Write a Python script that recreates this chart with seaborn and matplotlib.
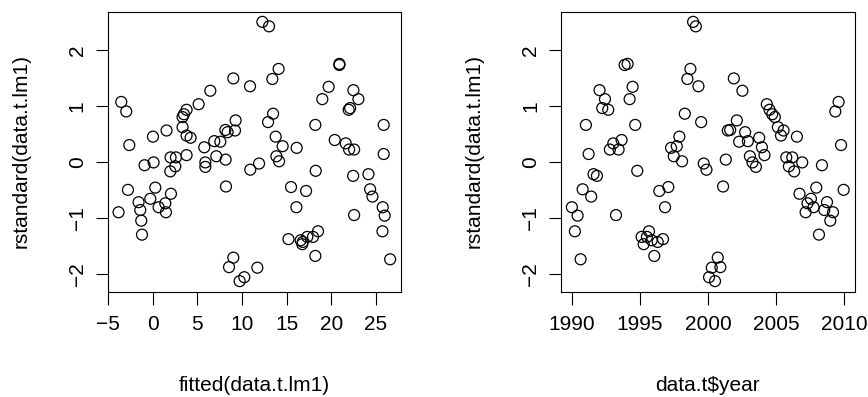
import numpy as np
import pandas as pd
import matplotlib
matplotlib.use("Agg")
import matplotlib.pyplot as plt
import seaborn as sns

year = [1990.00, 1990.22, 1990.42, 1990.64, 1990.79, 1991.03, 1991.23, 1991.42, 1991.59, 1991.84,
        1992.03, 1992.23, 1992.43, 1992.67, 1992.79, 1993.04, 1993.24, 1993.43, 1993.65, 1993.87,
        1994.09, 1994.24, 1994.46, 1994.65, 1994.80, 1995.12, 1995.27, 1995.51, 1995.66, 1995.86,
        1996.05, 1996.30, 1996.42, 1996.69, 1996.84, 1997.08, 1997.28, 1997.48, 1997.70, 1997.89,
        1998.09, 1998.29, 1998.48, 1998.70, 1998.90, 1999.10, 1999.29, 1999.49, 1999.68, 1999.88,
        2000.07, 2000.27, 2000.51, 2000.71, 2000.90, 2001.10, 2001.30, 2001.45, 2001.62, 2001.89,
        2002.11, 2002.28, 2002.52, 2002.72, 2002.92, 2003.07, 2003.26, 2003.51, 2003.75, 2003.95,
        2004.14, 2004.31, 2004.51, 2004.71, 2004.90, 2005.12, 2005.35, 2005.54, 2005.74, 2005.93,
        2006.18, 2006.32, 2006.52, 2006.71, 2006.91, 2007.16, 2007.30, 2007.55, 2007.74, 2007.94,
        2008.14, 2008.36, 2008.53, 2008.73, 2008.97, 2009.17, 2009.34, 2009.58, 2009.76, 2009.95]

rstd = [-0.80, -1.23, -0.95, -1.73, -0.48, 0.67, 0.15, -0.61, -0.21, -0.24,
        1.29, 0.97, 1.13, 0.94, 0.23, 0.34, -0.94, 0.23, 0.40, 1.74,
        1.76, 1.13, 1.35, 0.67, -0.15, -1.33, -1.46, -1.33, -1.23, -1.39,
        -1.67, -1.42, -0.51, -1.37, -0.80, -0.44, 0.26, 0.11, 0.29, 0.46,
        0.02, 0.87, 1.49, 1.67, 2.51, 2.43, 1.36, 0.72, -0.02, -0.13,
        -2.05, -1.88, -2.12, -1.70, -1.87, -0.43, 0.05, 0.57, 0.58, 1.50,
        0.75, 0.37, 1.28, 0.54, 0.38, 0.11, 0.00, -0.08, 0.44, 0.27,
        0.13, 1.04, 0.94, 0.86, 0.81, 0.63, 0.48, 0.57, 0.09, -0.07,
        0.09, -0.16, 0.46, -0.56, 0.00, -0.89, -0.73, -0.65, -0.80, -0.45,
        -1.29, -0.05, -0.85, -0.71, -1.04, -0.89, 0.91, 1.08, 0.31, -0.49]

fitted = [25.75, 25.72, 25.97, 26.58, 24.34, 25.86, 25.86, 24.60, 24.15, 22.44,
          22.47, 22.10, 23.03, 21.94, 22.55, 21.61, 22.55, 21.99, 20.38, 20.90,
          20.90, 18.99, 19.70, 18.21, 18.25, 17.95, 16.75, 17.31, 18.51, 16.57,
          18.21, 16.80, 17.17, 15.20, 16.09, 15.49, 16.12, 13.85, 14.55, 13.77,
          14.15, 13.48, 13.40, 14.10, 12.28, 13.03, 10.90, 12.92, 11.91, 10.93,
          10.26, 11.72, 9.74, 9.03, 8.55, 8.21, 8.17, 9.22, 8.14, 9.03,
          9.29, 7.58, 6.46, 8.39, 6.90, 7.13, 5.90, 5.90, 4.25, 5.78,
          3.80, 5.15, 3.80, 3.51, 3.35, 3.35, 3.80, 1.56, 2.61, 2.54,
          2.01, 1.98, 0.04, 2.05, 0.11, 1.49, 1.42, -0.26, 0.67, 0.30,
          -1.19, -0.90, -1.38, -1.57, -1.27, -3.81, -2.95, -3.51, -2.61, -2.76]

xticks_fit = [-5, 0, 5, 10, 15, 20, 25]
xticks_year = [1990, 1995, 2000, 2005, 2010]
yticks = [-2, -1, 0, 1, 2]

df = pd.DataFrame({"fitted": fitted, "year": year, "rstd": rstd})

sns.set_style("white")
plt.rcParams["font.family"] = ["Liberation Sans", "DejaVu Sans"]
plt.rcParams["axes.unicode_minus"] = True
for k in ["text.color", "axes.labelcolor", "xtick.color", "ytick.color", "axes.edgecolor"]:
    plt.rcParams[k] = "black"

W, H = 868, 397
fig = plt.figure(figsize=(W / 100, H / 100), dpi=100)

def pad_lim(v):
    lo, hi = min(v), max(v)
    d = (hi - lo) * 0.04
    return lo - d, hi + d

panels = [
    ("fitted", "fitted(data.t.lm1)", xticks_fit, 107.7, 401.0),
    ("year", "data.t$year", xticks_year, 561.0, 854.5),
]
top_px, bot_px = 11.5, 291.5
fs = 15

for col, xlabel, xt, x0, x1 in panels:
    ax = fig.add_axes([x0 / W, 1 - bot_px / H, (x1 - x0) / W, (bot_px - top_px) / H])
    sns.scatterplot(data=df, x=col, y="rstd", ax=ax, marker="o", s=62,
                    facecolor="none", edgecolor="black", linewidth=0.9, legend=False)
    ax.set_xlim(*pad_lim(df[col]))
    ax.set_ylim(*pad_lim(df["rstd"]))
    ax.set_xticks(xt)
    ax.set_yticks(yticks)
    ax.set_xticklabels([str(t).replace("-", "\u2212") for t in xt], fontsize=fs, color="black")
    ax.set_yticklabels([str(t).replace("-", "\u2212") for t in yticks], fontsize=fs,
                       rotation=90, va="center", color="black")
    ax.tick_params(axis="both", direction="out", length=9, width=0.8, color="black",
                   labelcolor="black", bottom=True, left=True)
    ax.tick_params(axis="x", pad=8)
    ax.tick_params(axis="y", pad=6)
    for sp in ax.spines.values():
        sp.set_visible(True)
        sp.set_color("black")
        sp.set_linewidth(0.8)
    ax.set_xlabel(xlabel, fontsize=fs, labelpad=30, color="black")
    ax.set_ylabel("rstandard(data.t.lm1)", fontsize=fs, labelpad=27, color="black")

fig.savefig("out.png", dpi=100, facecolor="white")
